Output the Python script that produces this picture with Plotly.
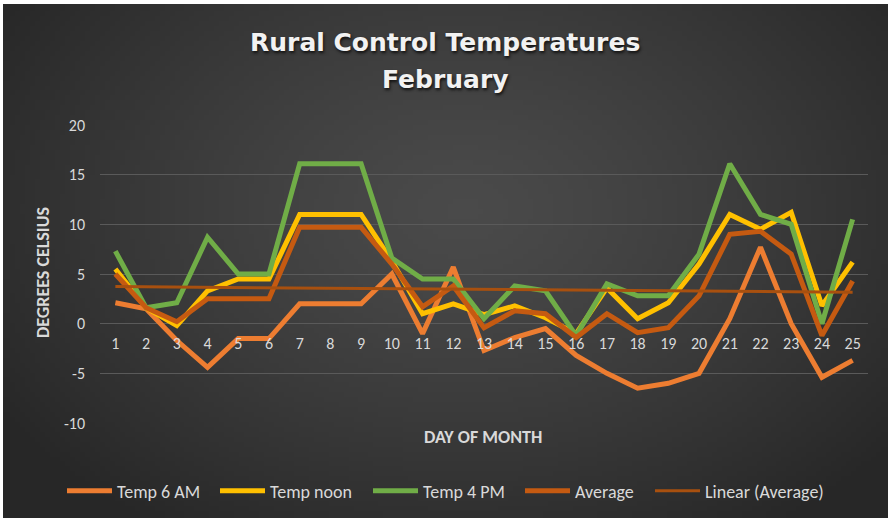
import base64, struct, zlib
import numpy as np
import plotly.graph_objects as go

# ---------------- data ----------------
DAYS = list(range(1, 26))
TEMP_6AM = [2.1, 1.5, -1.7, -4.4, -1.5, -1.5, 2.0, 2.0, 2.0, 5.0, -1.0, 5.7, -2.7,
            -1.4, -0.5, -3.2, -5.0, -6.5, -6.0, -5.0, 0.5, 7.7, 0.0, -5.4, -3.7]
TEMP_NOON = [5.5, 1.6, -0.2, 3.3, 4.5, 4.5, 11.0, 11.0, 11.0, 6.3, 1.0, 2.0, 0.9,
             1.8, 0.6, -1.0, 3.6, 0.5, 2.1, 6.0, 11.0, 9.5, 11.2, 1.8, 6.2]
TEMP_4PM = [7.3, 1.6, 2.1, 8.7, 5.0, 5.0, 16.1, 16.1, 16.1, 6.6, 4.5, 4.5, 0.5,
            3.8, 3.3, -1.2, 4.0, 2.8, 2.8, 7.0, 16.1, 11.0, 10.0, 0.0, 10.5]
AVERAGE = [5.0, 1.6, 0.2, 2.5, 2.5, 2.5, 9.7, 9.7, 9.7, 6.0, 1.7, 3.8, -0.4,
           1.3, 1.0, -1.4, 1.0, -0.9, -0.4, 2.8, 9.0, 9.3, 7.0, -1.2, 4.3]
SERIES_NAMES = ["Temp 6 AM", "Temp noon", "Temp 4 PM", "Average", "Linear (Average)"]
Y_TICKS = [-10, -5, 0, 5, 10, 15, 20]
Y_TICK_LABELS = ["-10", "-5", "0", "5", "10", "15", "20"]
X_TICK_LABELS = [str(d) for d in DAYS]

# Excel-style linear trendline of the Average series
slope, intercept = np.polyfit(DAYS, AVERAGE, 1)
TREND = [slope * d + intercept for d in DAYS]

# ---------------- geometry ----------------
W, H = 891, 522
ML, MR, MT, MB = 100, 23, 125, 99
PW, PH = W - ML - MR, H - MT - MB


def px_x(x):
    return (x - ML) / PW


def px_y(y):
    return (H - MB - y) / PH


# ---------------- background gradient image ----------------
def gradient_png(w, h):
    rows = []
    for j in range(h):
        v = (j + 0.5) / h
        row = bytearray([0])
        for i in range(w):
            u = (i + 0.5) / w
            d = (((u - 0.52) / 0.62) ** 2 + ((v - 0.40) / 0.75) ** 2) ** 0.5
            d = min(d, 1.0)
            c = int(round(0x4a + (0x27 - 0x4a) * d ** 1.3))
            row += bytes([c, c, c])
        rows.append(bytes(row))
    raw = b"".join(rows)

    def chunk(t, data):
        c = struct.pack(">I", len(data)) + t + data
        return c + struct.pack(">I", zlib.crc32(t + data) & 0xFFFFFFFF)

    png = b"\x89PNG\r\n\x1a\n"
    png += chunk(b"IHDR", struct.pack(">IIBBBBB", w, h, 8, 2, 0, 0, 0))
    png += chunk(b"IDAT", zlib.compress(raw, 9))
    png += chunk(b"IEND", b"")
    return "data:image/png;base64," + base64.b64encode(png).decode()


BG = gradient_png(178, 104)

FONT = "Carlito, Lato, 'Open Sans', sans-serif"
TXT = "#d9d9d9"

fig = go.Figure()
colors = ["#ED7D31", "#FFC000", "#70AD47", "#C55A11"]
legend_widths = [93, 93, 92, 70]
for name, ys, col, lw in zip(SERIES_NAMES[:4], [TEMP_6AM, TEMP_NOON, TEMP_4PM, AVERAGE],
                             colors, legend_widths):
    fig.add_trace(go.Scatter(x=DAYS, y=ys, mode="lines", name=name, legendwidth=lw,
                             line=dict(color=col, width=5)))
fig.add_trace(go.Scatter(x=DAYS, y=TREND, mode="lines", name=SERIES_NAMES[4],
                         line=dict(color="#A8500F", width=3)))

fig.update_layout(
    width=W, height=H,
    margin=dict(l=ML, r=MR, t=MT, b=MB, autoexpand=False),
    paper_bgcolor="#ffffff",
    plot_bgcolor="rgba(0,0,0,0)",
    showlegend=True,
    legend=dict(orientation="h", x=px_x(62), y=px_y(491), xanchor="left",
                yanchor="middle", bgcolor="rgba(0,0,0,0)",
                font=dict(family=FONT, size=18, color=TXT), itemwidth=45),
    xaxis=dict(range=[0.5, 25.5], tickvals=DAYS, ticktext=X_TICK_LABELS,
               anchor="free", position=10 / 30, showgrid=False, zeroline=False,
               showline=False, ticks="", ticklabelstandoff=8,
               tickfont=dict(family=FONT, size=16, color=TXT)),
    yaxis=dict(range=[-10, 20], tickvals=Y_TICKS, ticktext=Y_TICK_LABELS, showgrid=True,
               gridcolor="#5a5a5a", gridwidth=1, zeroline=False, showline=False, ticks="",
               ticklabelstandoff=14, tickfont=dict(family=FONT, size=16, color=TXT)),
    images=[dict(source=BG, xref="paper", yref="paper", x=px_x(3), y=px_y(4),
                 sizex=(W - 6) / PW, sizey=(H - 8) / PH, sizing="stretch",
                 xanchor="left", yanchor="top", layer="below")],
    annotations=[
        dict(text="<b>Rural Control Temperatures</b>", x=px_x(445), y=px_y(42),
             xref="paper", yref="paper", showarrow=False, xanchor="center", yanchor="middle",
             font=dict(family="'DejaVu Sans'", size=25, color="#f2f2f2",
                       shadow="1px 2px 3px #111")),
        dict(text="<b>February</b>", x=px_x(445), y=px_y(80),
             xref="paper", yref="paper", showarrow=False, xanchor="center", yanchor="middle",
             font=dict(family="'DejaVu Sans'", size=25, color="#f2f2f2",
                       shadow="1px 2px 3px #111")),
        dict(text="<b>DEGREES CELSIUS</b>", x=px_x(43), y=px_y(273), xref="paper", yref="paper",
             showarrow=False, textangle=-90, xanchor="center", yanchor="middle",
             font=dict(family=FONT, size=18, color=TXT)),
        dict(text="<b>DAY OF MONTH</b>", x=px_x(483), y=px_y(437), xref="paper", yref="paper",
             showarrow=False, xanchor="center", yanchor="middle",
             font=dict(family=FONT, size=18, color=TXT)),
    ],
)

fig.write_html("out.html", config={"displayModeBar": False},
               post_script="document.body.style.margin='0';")
